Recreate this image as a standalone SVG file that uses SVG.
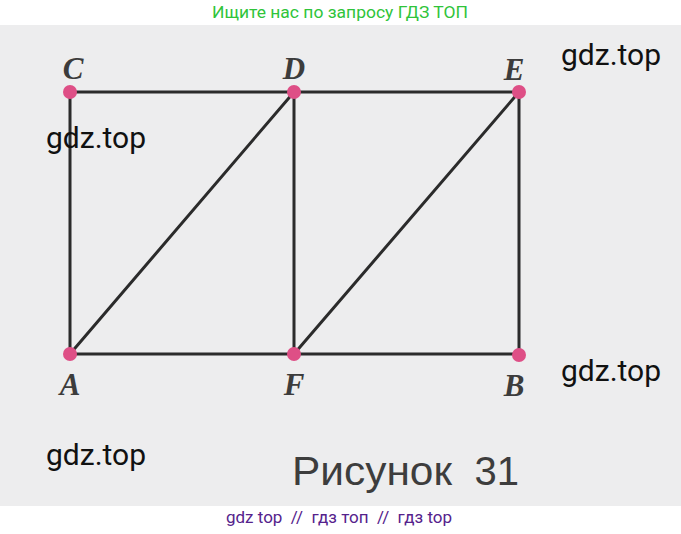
<svg xmlns="http://www.w3.org/2000/svg" width="681" height="534" viewBox="0 0 681 534">
<style>
.edge{stroke:#2b2b2b;stroke-width:3;fill:none;stroke-linecap:round}
.pt{fill:#de4f86}
.lbl{font-family:"Liberation Serif","DejaVu Serif",serif;font-style:italic;font-weight:bold;font-size:31px;fill:#3c3c3c;text-anchor:middle}
.wm{font-family:Roboto,"Liberation Sans",sans-serif;font-size:30px;fill:#111}
</style>
<rect x="0" y="0" width="681" height="534" fill="#ffffff"/>
<rect x="0" y="25" width="681" height="481" fill="#ededee"/>
<text x="340" y="18" font-family="Roboto,'Liberation Sans',sans-serif" font-size="17" fill="#2fc43a" text-anchor="middle" textLength="256" lengthAdjust="spacingAndGlyphs">Ищите нас по запросу ГДЗ ТОП</text>
<g id="connectors">
<line class="edge" x1="70" y1="92" x2="519" y2="92"/>
<line class="edge" x1="70" y1="354" x2="519" y2="354"/>
<line class="edge" x1="70" y1="92" x2="70" y2="354"/>
<line class="edge" x1="294" y1="92" x2="294" y2="354"/>
<line class="edge" x1="519" y1="92" x2="519" y2="354"/>
<line class="edge" x1="70" y1="354" x2="294" y2="92"/>
<line class="edge" x1="294" y1="354" x2="519" y2="92"/>
</g>
<g id="C"><circle class="pt" cx="70" cy="92" r="7"/><text class="lbl" x="73" y="79">C</text></g>
<g id="D"><circle class="pt" cx="294" cy="92" r="7"/><text class="lbl" x="294" y="79">D</text></g>
<g id="E"><circle class="pt" cx="519" cy="92" r="7"/><text class="lbl" x="514" y="80">E</text></g>
<g id="A"><circle class="pt" cx="70" cy="354" r="7"/><text class="lbl" x="70" y="395">A</text></g>
<g id="F"><circle class="pt" cx="294" cy="354" r="7"/><text class="lbl" x="294" y="395">F</text></g>
<g id="B"><circle class="pt" cx="519" cy="355" r="7"/><text class="lbl" x="514" y="396">B</text></g>
<text x="292" y="485" font-family="'Liberation Sans',Arial,sans-serif" font-size="40" fill="#3d3d3d" textLength="160" lengthAdjust="spacingAndGlyphs">Рисунок</text>
<text x="519" y="485" font-family="'Liberation Sans',Arial,sans-serif" font-size="40" fill="#3d3d3d" text-anchor="end">31</text>
<text class="wm" x="561" y="65">gdz.top</text>
<text class="wm" x="46" y="148">gdz.top</text>
<text class="wm" x="561" y="381">gdz.top</text>
<text class="wm" x="46" y="465">gdz.top</text>
<text x="339" y="523" font-family="Roboto,'Liberation Sans',sans-serif" font-size="17" fill="#55228c" text-anchor="middle" xml:space="preserve">gdz top  //  гдз топ  //  гдз top</text>
</svg>
